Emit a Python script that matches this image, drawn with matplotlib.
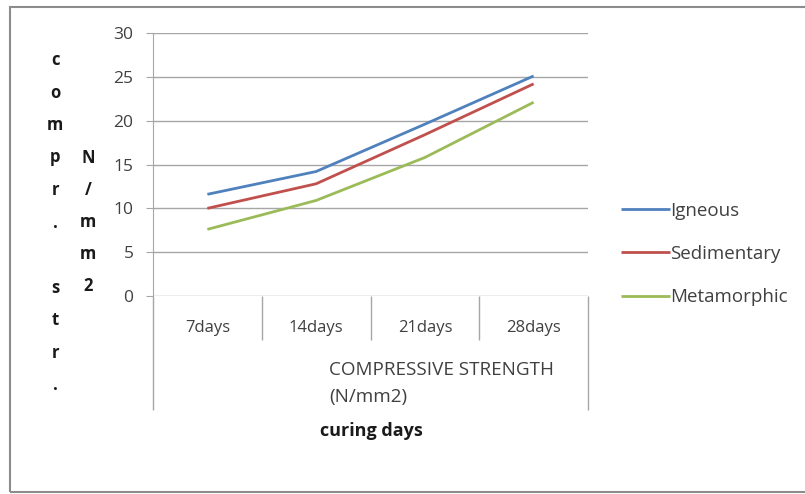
import matplotlib
matplotlib.use("Agg")
import matplotlib.pyplot as plt
from matplotlib.patches import Rectangle

# data
days = ["7days", "14days", "21days", "28days"]
igneous = [11.6, 14.2, 19.6, 25.1]
sedimentary = [10.0, 12.8, 18.4, 24.2]
metamorphic = [7.6, 10.9, 15.8, 22.1]
series_names = ["Igneous", "Sedimentary", "Metamorphic"]
colors = ["#4F81BD", "#C0504D", "#9BBB59"]

W, H = 805, 494
FONT = "Open Sans"
GRID = "#A6A6A6"
TXT = "#404040"
DARK = "#1a1a1a"


def px(x, y):
    # pixel position -> figure fraction
    return x / W, 1 - y / H


plt.rcParams['font.family'] = [FONT, 'DejaVu Sans']

fig = plt.figure(figsize=(W / 100, H / 100), dpi=100)
fig.patches.append(Rectangle(px(10, 492), (W - 8) / W, 485 / H, transform=fig.transFigure,
                             fill=False, edgecolor="#8C8C8C", lw=1.5))

left, top = px(153, 33)
right, bottom = px(588, 296)
ax = fig.add_axes([left, bottom, right - left, top - bottom])

x = range(len(days))
for vals, name, c in zip([igneous, sedimentary, metamorphic], series_names, colors):
    ax.plot(x, vals, color=c, lw=2.0, label=name, solid_capstyle='butt')

ax.set_xlim(-0.5, len(days) - 0.5)
ax.set_ylim(0, 30)
ax.set_yticks(range(0, 31, 5))
ax.yaxis.grid(True, color=GRID, lw=1.0)
ax.set_axisbelow(True)
for s in ["top", "right", "bottom"]:
    ax.spines[s].set_visible(False)
ax.spines["left"].set_color(GRID)
ax.spines["left"].set_bounds(0, 30)
ax.tick_params(axis='y', length=5, color=GRID, pad=9, labelsize=12.5, labelcolor=TXT)
ax.set_xticks(list(x))
ax.set_xticklabels(days)
ax.tick_params(axis='x', length=0, pad=17.5, labelsize=12, labelcolor=TXT)

# category dividers and the extended frame lines below the axis
trans = ax.get_xaxis_transform()
drop_short = -(340 - 296) / (296 - 33)
drop_long = -(410 - 296) / (296 - 33)
ax.vlines([0.5, 1.5, 2.5], drop_short, 0, transform=trans, color=GRID, lw=1.0, clip_on=False)
ax.vlines([-0.5, 3.5], drop_long, 0, transform=trans, color=GRID, lw=1.0, clip_on=False)

# series title under the categories
fig.text(*px(329, 370), "COMPRESSIVE STRENGTH", ha='left', va='center', fontsize=13.6, color=TXT)
fig.text(*px(329, 397), "(N/mm2)", ha='left', va='center', fontsize=13.6, color=TXT)
fig.text(*px(371, 431), "curing days", ha='center', va='center', fontsize=13, fontweight='bold', color=DARK)

# stacked y-axis label letters
col1 = "compr. str."
for i, ch in enumerate(col1):
    if ch != " ":
        fig.text(*px(55, 60 + i * 32.5), ch, ha='center', va='center', fontsize=12,
                 fontweight='bold', color=DARK)
col2 = "N/mm2"
for i, ch in enumerate(col2):
    fig.text(*px(88, 158 + i * 32), ch, ha='center', va='center', fontsize=12,
             fontweight='bold', color=DARK)

leg = ax.legend(loc='center left', bbox_to_anchor=px(621, 254), bbox_transform=fig.transFigure,
                frameon=False, fontsize=13.5, handlelength=2.6, handletextpad=0.0,
                labelspacing=1.35, borderpad=0, borderaxespad=0)
for t in leg.get_texts():
    t.set_color(TXT)

fig.savefig("out.png", dpi=100)
